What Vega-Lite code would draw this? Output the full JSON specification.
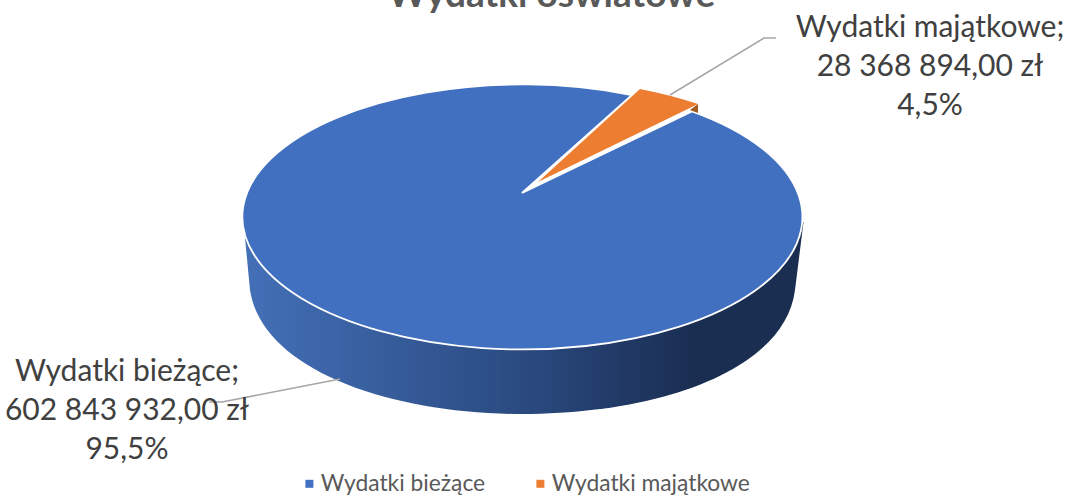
{"$schema":"https://vega.github.io/schema/vega-lite/v6.json","width":1073,"height":497,"padding":0,"autosize":{"type":"none"},"background":"white","title":{"text":"Wydatki oświatowe","orient":"top","anchor":"middle","frame":"group","dx":15,"offset":-44,"font":"Lato","fontSize":37,"fontWeight":"bold","color":"#595959","baseline":"alphabetic"},"config":{"view":{"stroke":null}},"data":{"values":[{"nazwa":"Wydatki bieżące","wartosc":602843932,"udzial":95.5,"etykieta":"Wydatki bieżące;\n602 843 932,00 zł\n95,5%"},{"nazwa":"Wydatki majątkowe","wartosc":28368894,"udzial":4.5,"etykieta":"Wydatki majątkowe;\n28 368 894,00 zł\n4,5%"}]},"encoding":{"x":{"field":"nazwa","type":"nominal","axis":null,"scale":{"type":"point","padding":0,"domain":["Wydatki bieżące","Wydatki majątkowe"],"range":[127,930]}},"y":{"field":"nazwa","type":"nominal","axis":null,"scale":{"type":"point","padding":0,"domain":["Wydatki bieżące","Wydatki majątkowe"],"range":[381,37]}}},"layer":[{"transform":[{"filter":"datum.udzial > 50"}],"mark":{"type":"point","filled":true,"opacity":1,"size":4,"strokeWidth":0,"shape":"M116.5 -159L123 -91C135 -11 263 33 395 33C533 33 658 -11 668 -91L676.5 -159Z","fill":{"x1":0,"x2":1,"y1":0,"y2":0,"gradient":"linear","stops":[{"offset":0,"color":"#4470b8"},{"offset":0.5,"color":"#2a4a80"},{"offset":0.8,"color":"#1a2e52"},{"offset":1,"color":"#1a2e52"}]}}},{"transform":[{"filter":"datum.udzial > 50"}],"mark":{"type":"point","filled":true,"opacity":1,"size":4,"stroke":"white","strokeWidth":1.8,"shape":"M395 -188L505 -286A280 132.5 0 1 0 565 -269.5Z"},"encoding":{"color":{"field":"nazwa","type":"nominal","scale":{"domain":["Wydatki bieżące","Wydatki majątkowe"],"range":["#4270c0","#ed7d31"]},"legend":{"title":null,"orient":"none","legendX":298,"legendY":472,"direction":"horizontal","columns":2,"symbolType":"square","symbolSize":64,"symbolStrokeWidth":0,"labelFont":"Lato","labelFontSize":22.8,"labelColor":"#595959","labelOffset":0,"columnPadding":43,"labelLimit":300}}}},{"transform":[{"filter":"datum.udzial > 50"}],"mark":{"type":"point","filled":false,"opacity":1,"size":4,"stroke":"#a6a6a6","strokeWidth":1.5,"shape":"M213 -2L95 21L82 21"}},{"transform":[{"filter":"datum.udzial < 50"}],"mark":{"type":"point","filled":false,"opacity":1,"size":4,"stroke":"#a6a6a6","strokeWidth":1.5,"shape":"M-260 58L-166 1L-154 1"}},{"transform":[{"filter":"datum.udzial < 50"}],"mark":{"type":"point","filled":true,"opacity":1,"size":4,"strokeWidth":0,"fill":"#a05a1e","shape":"M-240 73L-232 67L-232 76Z"}},{"transform":[{"filter":"datum.udzial < 50"}],"mark":{"type":"point","filled":true,"opacity":1,"size":4,"strokeWidth":0,"fill":"#ed7d31","shape":"M-392 145L-290 52A280 132.5 0 0 1 -232 67Z"}},{"mark":{"type":"text","font":"Lato","fontSize":30,"color":"#404040","align":"center","baseline":"alphabetic","lineBreak":"\n","lineHeight":39},"encoding":{"text":{"field":"etykieta","type":"nominal"}}}]}
